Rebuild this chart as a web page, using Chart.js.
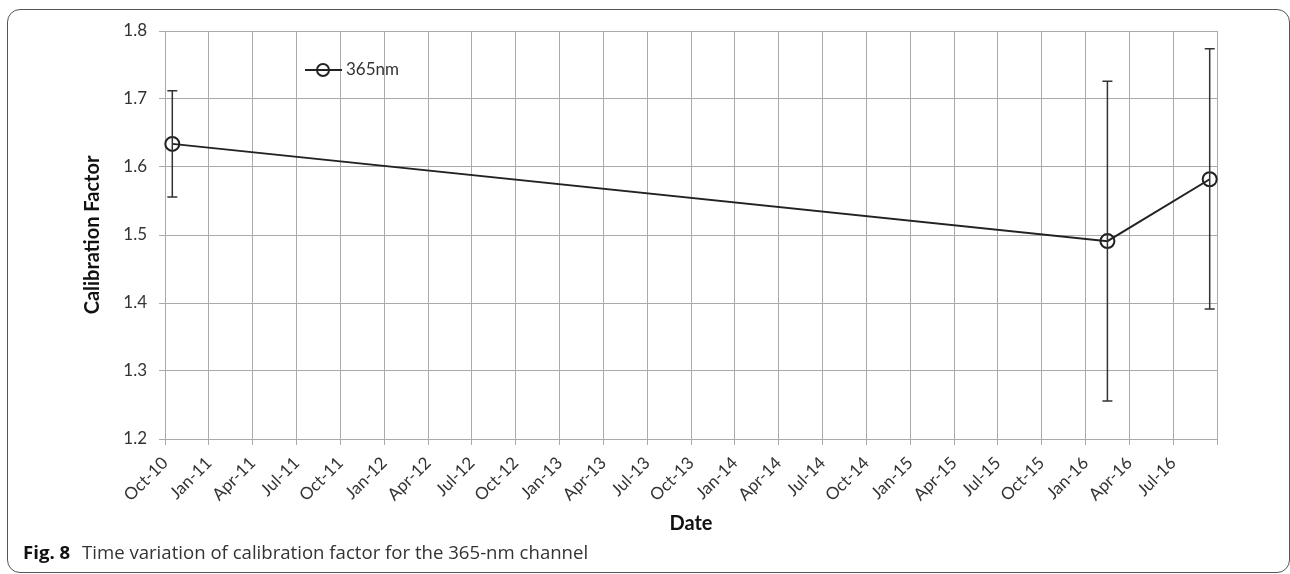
<!DOCTYPE html>
<html>
<head>
<meta charset="utf-8">
<script src="https://cdn.jsdelivr.net/npm/chart.js@4/dist/chart.umd.min.js"></script>
<style>
  html, body { margin: 0; padding: 0; background: #fff; }
  #wrap { position: relative; width: 1290px; height: 574px; overflow: hidden; }
  #frame {
    position: absolute; left: 7px; top: 9px; width: 1283px; height: 564px;
    border: 1.5px solid #555; border-radius: 13px; box-sizing: border-box;
  }
  #chart { position: absolute; left: 0; top: 0; }
  #caption {
    position: absolute; left: 23px; top: 539px;
    font-family: "Open Sans", sans-serif; font-size: 18.6px; color: #333;
    white-space: nowrap;
  }
  #caption b { font-weight: 700; color: #111; margin-right: 7px; }
</style>
</head>
<body>
<div id="wrap">
  <div id="frame"></div>
  <canvas id="chart" width="1290" height="574"></canvas>
  <div id="caption"><b>Fig. 8</b> Time variation of calibration factor for the 365-nm channel</div>
</div>
<script>
// quarterly tick labels (axis runs Oct-10 .. Oct-16, value = months since Oct-10)
const xLabels = ['Oct-10', 'Jan-11', 'Apr-11', 'Jul-11', 'Oct-11', 'Jan-12', 'Apr-12', 'Jul-12',
  'Oct-12', 'Jan-13', 'Apr-13', 'Jul-13', 'Oct-13', 'Jan-14', 'Apr-14', 'Jul-14',
  'Oct-14', 'Jan-15', 'Apr-15', 'Jul-15', 'Oct-15', 'Jan-16', 'Apr-16', 'Jul-16'];
const xTickValues = [0, 3, 6, 9, 12, 15, 18, 21, 24, 27, 30, 33, 36, 39, 42, 45,
  48, 51, 54, 57, 60, 63, 66, 69, 72];

// measurements
const monthsFromOct10 = [0.5, 64.5, 71.5];
const calFactor = [1.634, 1.491, 1.582];
const errLow = [1.556, 1.256, 1.391];
const errHigh = [1.712, 1.726, 1.774];
const seriesName = '365nm';

const lineColor = '#222';
const gridColor = '#aaaaaa';

const points = monthsFromOct10.map((m, i) => ({ x: m, y: calFactor[i] }));

// error bars + in-plot legend
const extras = {
  id: 'extras',
  afterDatasetsDraw(chart) {
    const { ctx, scales: { x, y } } = chart;
    ctx.save();
    ctx.strokeStyle = '#333';
    ctx.lineWidth = 1.5;
    monthsFromOct10.forEach((m, i) => {
      const px = x.getPixelForValue(m);
      const yt = y.getPixelForValue(errHigh[i]);
      const yb = y.getPixelForValue(errLow[i]);
      ctx.beginPath();
      ctx.moveTo(px, yt); ctx.lineTo(px, yb);
      ctx.moveTo(px - 5, yt); ctx.lineTo(px + 5, yt);
      ctx.moveTo(px - 5, yb); ctx.lineTo(px + 5, yb);
      ctx.stroke();
    });

    // legend
    const lx = 305, ly = 70;
    ctx.strokeStyle = lineColor;
    ctx.lineWidth = 2;
    ctx.beginPath();
    ctx.moveTo(lx, ly); ctx.lineTo(lx + 37, ly);
    ctx.stroke();
    ctx.beginPath();
    ctx.arc(lx + 18, ly, 6, 0, Math.PI * 2);
    ctx.stroke();
    ctx.fillStyle = '#333';
    ctx.font = '17px Lato';
    ctx.textBaseline = 'middle';
    ctx.textAlign = 'left';
    ctx.fillText(seriesName, lx + 41, ly);
    ctx.restore();
  }
};

new Chart(document.getElementById('chart'), {
  type: 'line',
  data: {
    datasets: [{
      label: seriesName,
      data: points,
      borderColor: lineColor,
      borderWidth: 2,
      pointRadius: 7,
      pointBorderWidth: 2,
      pointBorderColor: lineColor,
      pointBackgroundColor: 'rgba(0,0,0,0)',
      clip: false,
      tension: 0
    }]
  },
  options: {
    responsive: false,
    animation: false,
    devicePixelRatio: 1,
    layout: { padding: { left: 75, right: 73, top: 31, bottom: 38 } },
    plugins: {
      legend: { display: false },
      tooltip: { enabled: false }
    },
    scales: {
      x: {
        type: 'linear',
        min: 0,
        max: 72,
        afterBuildTicks: scale => {
          scale.ticks = xTickValues.map(v => ({ value: v }));
        },
        afterFit: scale => { scale.height = 97; },
        grid: { color: gridColor, tickLength: 6, lineWidth: 1 },
        border: { color: gridColor },
        ticks: {
          autoSkip: false,
          minRotation: 45,
          maxRotation: 45,
          padding: 8,
          color: '#333',
          font: { family: 'Lato', size: 17 },
          callback: (v, i) => xLabels[i] || ''
        },
        title: {
          display: true,
          text: 'Date',
          color: '#111',
          font: { family: 'Lato', size: 20, weight: 'bold' },
          padding: { top: 0, bottom: 0 }
        }
      },
      y: {
        min: 1.2,
        max: 1.8,
        afterFit: scale => { scale.width = 90; },
        grid: { color: gridColor, tickLength: 6, lineWidth: 1 },
        border: { color: gridColor },
        ticks: {
          stepSize: 0.1,
          padding: 12,
          color: '#333',
          font: { family: 'Lato', size: 17 },
          callback: v => v.toFixed(1)
        },
        title: {
          display: true,
          text: 'Calibration Factor',
          color: '#111',
          font: { family: 'Lato', size: 20, weight: 'bold' },
          padding: { top: 6, bottom: 0 }
        }
      }
    }
  },
  plugins: [extras]
});
</script>
</body>
</html>
